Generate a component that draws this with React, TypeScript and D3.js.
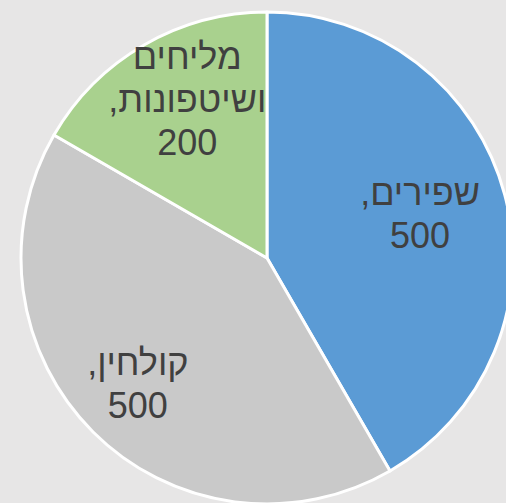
import React from "react";
import * as d3 from "d3";

const categories = ["שפירים", "קולחין", "מליחים ושיטפונות"];
const values = [500, 500, 200];
const colors = ["#5B9BD5", "#C9C9C9", "#A9D18E"];

const W = 506;
const H = 503;
const CX = 267;
const CY = 258;
const R = 246;
const FONT = 36;
const LINE = 43;
// label placement (polar: angle offset in degrees from slice middle, radius factor)
const labelAngleOffset = [3.5, -2, 1.3];
const labelRadiusFactor = [0.635, 0.77, 0.675];

function labelLines(cat: string, v: number): string[] {
  const words = cat.split(" ");
  const lines = [...words];
  lines[lines.length - 1] = lines[lines.length - 1] + ",";
  lines.push(String(v));
  return lines;
}

export default function App() {
  const data = categories.map((c, i) => ({ cat: c, value: values[i], i }));
  const pie = d3.pie<any>().sort(null).value((d) => d.value);
  const arcs = pie(data);
  const arc = d3.arc<any>().innerRadius(0).outerRadius(R);

  return (
    <div>
      <style>{`body{margin:0}`}</style>
      <svg width={W} height={H} style={{ display: "block" }}>
        <rect x={0} y={0} width={W} height={H} fill="#E7E6E6" />
        <g transform={`translate(${CX},${CY})`}>
          {arcs.map((a, i) => (
            <path key={i} d={arc(a) as string} fill={colors[i]} stroke="#FFFFFF" strokeWidth={3} strokeLinejoin="round" />
          ))}
          {arcs.map((a, i) => {
            const mid = (a.startAngle + a.endAngle) / 2 + (labelAngleOffset[i] * Math.PI) / 180;
            const rr = R * labelRadiusFactor[i];
            const x = rr * Math.sin(mid);
            const y = -rr * Math.cos(mid);
            const lines = labelLines(a.data.cat, a.data.value);
            const n = lines.length;
            return (
              <g key={"l" + i}>
                {lines.map((t, j) => (
                  <text
                    key={j}
                    x={x}
                    y={y + (j - (n - 1) / 2) * LINE}
                    textAnchor="middle"
                    direction="rtl"
                    fontFamily="'Liberation Sans', Arial, sans-serif"
                    fontSize={FONT}
                    fill="#404040"
                  >
                    {t}
                  </text>
                ))}
              </g>
            );
          })}
        </g>
      </svg>
    </div>
  );
}
